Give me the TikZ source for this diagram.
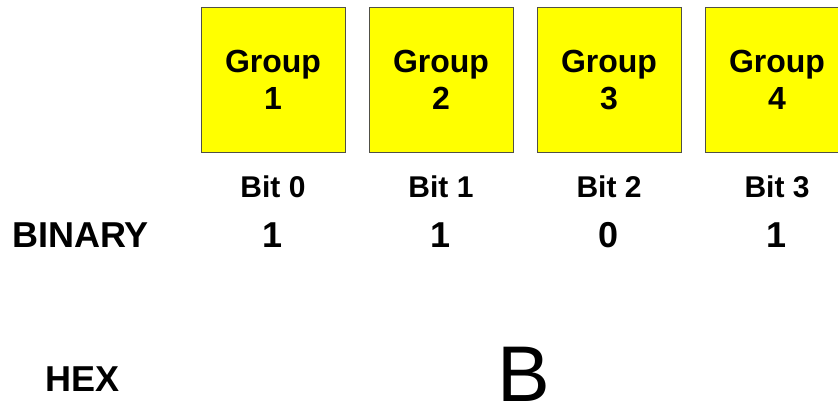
\documentclass[tikz,border=0pt]{standalone}
\usepackage{fontspec}
\setmainfont{Liberation Sans}
\definecolor{boxfill}{RGB}{255,255,0}
\definecolor{boxline}{RGB}{80,80,70}
\begin{document}
\begin{tikzpicture}[x=1pt,y=-1pt,
  groupbox/.style={draw=boxline, line width=1pt, fill=boxfill, minimum width=144pt,
    minimum height=144pt, inner sep=0pt, align=center,
    font=\bfseries\fontsize{32}{37}\selectfont},
  bitlabel/.style={anchor=base, inner sep=0pt, font=\bfseries\fontsize{30}{36}\selectfont},
  bigbold/.style={anchor=base, inner sep=0pt, font=\bfseries\fontsize{36}{42}\selectfont}]
  \useasboundingbox (0,0) rectangle (838,404);
  \clip (0,0) rectangle (838,404);

  % the four groups of bits
  \foreach \i/\x/\bitval [evaluate=\i as \b using int(\i-1)] in {1/273/1, 2/441/1, 3/609/0, 4/777/1} {
    \node[groupbox] (g\i) at (\x,80) {Group\\\i};
    \node[bitlabel] (bit\i) at (\x,197) {Bit \b};
    \node[bigbold] (val\i) at (\x,247) {\bitval};
  }

  % row captions
  \node[bigbold, anchor=base west] (binary) at (12,247) {BINARY};
  \node[bigbold, anchor=base west] (hex) at (45,391) {HEX};

  % hexadecimal digit
  \node[anchor=base, inner sep=0pt, font=\fontsize{79}{90}\selectfont] (hexval) at (524,401.5) {B};
\end{tikzpicture}
\end{document}
